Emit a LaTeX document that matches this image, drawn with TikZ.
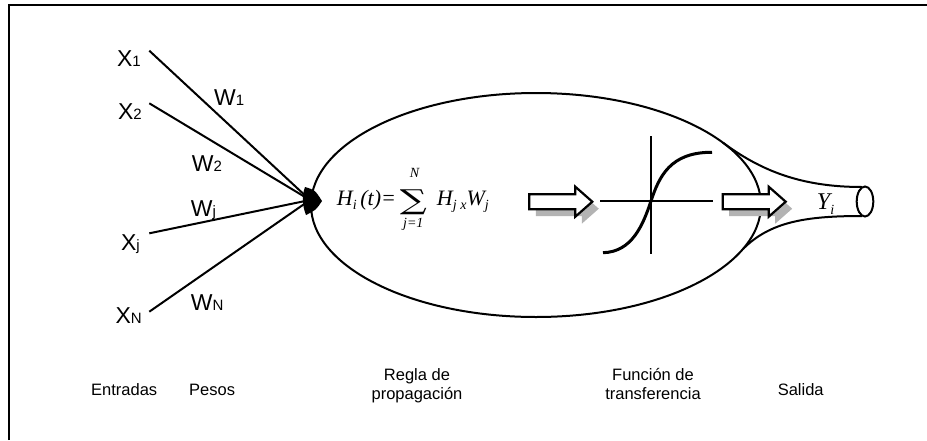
\documentclass[tikz,border=0pt]{standalone}
\usepackage{graphicx}
\usepackage{fontspec}
\setmainfont{Liberation Sans}
\newfontfamily\formfont{Liberation Serif}
\newfontfamily\sumfont{DejaVu Serif}
\definecolor{shadowgray}{HTML}{B3B3B3}

% small subscript on the baseline (labels) and lowered (formula)
\newcommand\sbs[1]{{\fontsize{15}{15}\selectfont #1}}
\newcommand\eqsub[1]{\raisebox{-0.2em}{\fontsize{14}{14}\selectfont #1}}

\tikzset{
  lbl/.style={font=\fontsize{23}{26}\selectfont, inner sep=0pt},
  caption/.style={font=\fontsize{16.5}{18.5}\selectfont, inner sep=0pt, align=center},
  eq/.style={font=\formfont\itshape\fontsize{22}{24}\selectfont, inner sep=0pt},
  eqsm/.style={font=\formfont\itshape\fontsize{14}{16}\selectfont, inner sep=0pt},
  wire/.style={line width=2pt},
  flecha/.pic={
    \fill[shadowgray] (6.5,-0.5) -- (52.5,-0.5) -- (52.5,-8) -- (69.5,7) -- (52.5,22) -- (52.5,14.5) -- (6.5,14.5) -- cycle;
    \draw[line width=2.2pt, fill=white, line join=miter] (0,-7.5) -- (46,-7.5) -- (46,-15) -- (63,0) -- (46,15) -- (46,7.5) -- (0,7.5) -- cycle;
  },
}

\begin{document}
\begin{tikzpicture}[x=1pt, y=-1pt]
\useasboundingbox (0,0) rectangle (927,440);

% Frame
\draw[line width=1.5pt] (9,440) -- (9,5) -- (927,5);

% === Inputs ===
\node[lbl, anchor=base east] (x1) at (141,66.7) {X\sbs{1}};
\node[lbl, anchor=base east] (x2) at (142,119) {X\sbs{2}};
\node[lbl, anchor=base east] (xj) at (140,250) {X\sbs{j}};
\node[lbl, anchor=base east] (xn) at (142,323) {X\sbs{N}};

\coordinate (i1) at (149.3,50.7);
\coordinate (i2) at (149.3,103.3);
\coordinate (ij) at (149.3,233.3);
\coordinate (in) at (149.3,311.7);
\coordinate (soma) at (310,200);

% Weights
\node[lbl, anchor=base west] (w1) at (214,105) {W\sbs{1}};
\node[lbl, anchor=base west] (w2) at (191.7,171.7) {W\sbs{2}};
\node[lbl, anchor=base west] (wj) at (190.7,216) {W\sbs{j}};
\node[lbl, anchor=base west] (wn) at (190.7,310.7) {W\sbs{N}};

% Input wires
\foreach \s in {i1,i2,ij,in} {
  \draw[wire] (\s) -- (soma);
}

% === Neuron body ===
\draw[line width=2pt] (536,205) ellipse [x radius=225, y radius=112];

% Output funnel
\draw[line width=2pt] (723,142.7) .. controls (760,170) and (800,187) .. (862,187);
\draw[line width=2pt] (743,249) .. controls (770,222) and (805,216) .. (862,216);
\draw[line width=2pt] (865,201.5) ellipse [x radius=8.3, y radius=15];

% Synapse blob
\fill (305,187) .. controls (315,190) .. (322,201) .. controls (316,210) .. (306,215)
  .. controls (302,205) and (302,195) .. cycle;

% === Propagation rule ===
\node[eq, anchor=base west] (hi) at (336.7,205) {H\eqsub{i}\,(t)=};
\node[inner sep=0pt] (sum) at (413.3,202.5) {\resizebox*{27pt}{25pt}{\sumfont ∑}};
\node[eqsm, anchor=base] (supn) at (414.5,177.5) {N};
\node[eqsm, anchor=base] (subj) at (413.3,227.8) {j=1};
\node[eq, anchor=base west] (hj) at (436.7,205) {H\eqsub{j}\,\eqsub{x}W\eqsub{j}};

% Arrows
\pic at (529.3,201.7) {flecha};
\pic at (722.7,201.7) {flecha};

% === Transfer function ===
\draw[line width=2pt] (600,201) -- (712.7,201);
\draw[line width=2pt] (651,136) -- (651,254);
\draw[line width=3pt] (603,252.7) .. controls (632,252) and (643,225) .. (651,201)
  .. controls (659,177) and (670,152) .. (712,152.3);

% Output
\node[eq, anchor=base west, font=\formfont\itshape\fontsize{24}{26}\selectfont] (yi) at (816.7,209.3) {Y\eqsub{i}};

% === Bottom captions ===
\node[caption, anchor=base west] (entradas) at (91,395.7) {Entradas};
\node[caption, anchor=base west] (pesos) at (189,395.7) {Pesos};
\node[caption, anchor=base] (regla) at (417,399) {Regla de\\propagación};
\node[caption, anchor=base] (funcion) at (653,399) {Función de\\transferencia};
\node[caption, anchor=base] (salida) at (800.7,395.7) {Salida};

\end{tikzpicture}
\end{document}
